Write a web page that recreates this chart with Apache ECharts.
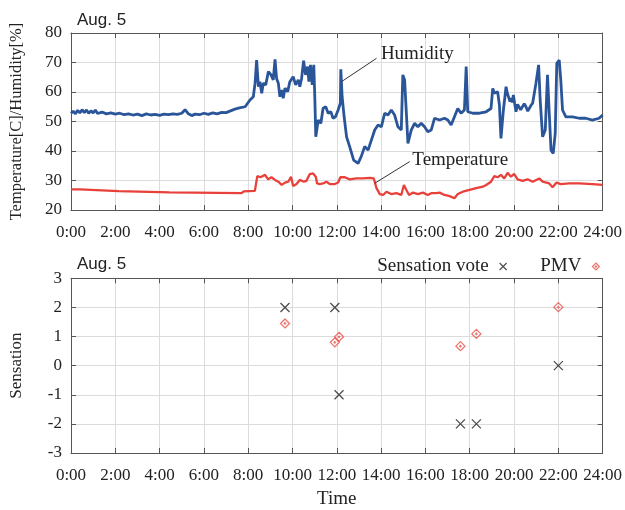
<!DOCTYPE html>
<html>
<head>
<meta charset="utf-8">
<script src="https://cdn.jsdelivr.net/npm/echarts@6/dist/echarts.min.js"></script>
<style>
html,body{margin:0;padding:0;background:#fff;}
#chart{width:625px;height:510px;}
</style>
</head>
<body>
<div id="chart"></div>
<script>
// ---- data (hours of day, values) ----
const timeTickHours = [0,2,4,6,8,10,12,14,16,18,20,22,24];

const humidityHours = [0.00,0.10,0.20,0.30,0.40,0.50,0.60,0.70,0.80,0.90,1.00,1.10,1.20,1.40,1.60,1.80,2.00,2.20,2.40,2.60,2.80,3.00,3.20,3.40,3.60,3.80,4.00,4.20,4.40,4.60,4.80,5.00,5.15,5.30,5.45,5.60,5.80,6.00,6.20,6.40,6.60,6.80,7.00,7.20,7.40,7.60,7.86,8.08,8.23,8.31,8.38,8.46,8.53,8.61,8.68,8.79,8.91,9.03,9.13,9.21,9.28,9.36,9.43,9.51,9.58,9.66,9.78,9.88,9.96,10.03,10.14,10.26,10.33,10.41,10.50,10.59,10.68,10.74,10.81,10.89,10.96,11.01,11.05,11.16,11.28,11.38,11.50,11.61,11.73,11.83,11.94,12.06,12.16,12.18,12.24,12.33,12.44,12.58,12.76,12.96,13.10,13.26,13.41,13.56,13.71,13.86,14.01,14.16,14.31,14.46,14.61,14.76,14.91,14.98,15.06,15.14,15.21,15.36,15.51,15.66,15.81,15.96,16.11,16.26,16.41,16.64,16.86,17.01,17.16,17.31,17.46,17.61,17.76,17.84,17.91,18.14,18.44,18.74,18.96,19.04,19.11,19.26,19.34,19.41,19.52,19.64,19.70,19.76,19.82,19.86,19.92,19.97,20.03,20.09,20.16,20.24,20.30,20.39,20.46,20.54,20.62,20.69,20.77,20.84,20.99,21.11,21.18,21.29,21.41,21.51,21.59,21.67,21.77,21.86,21.93,22.04,22.11,22.19,22.34,22.64,22.94,23.24,23.54,23.84,24.00];
const humidityValues = [52.8,53.5,52.6,53.8,52.9,54.0,53.0,53.9,52.8,53.6,52.9,53.9,52.7,53.2,52.6,52.9,52.5,52.8,52.3,52.6,52.2,52.5,52.0,52.6,52.2,52.4,52.1,52.5,52.3,52.6,52.4,52.8,54.0,52.6,52.0,52.5,52.3,52.8,52.4,52.9,52.6,53.1,53.0,53.6,54.2,54.6,55.0,57.3,58.4,63.0,70.8,61.8,63.5,59.6,63.0,62.4,66.9,65.8,64.1,71.1,64.6,63.0,58.4,60.7,57.9,61.3,60.1,63.5,63.0,65.2,62.4,64.1,61.8,64.6,70.6,65.8,68.6,63.5,69.2,62.4,69.2,57.3,44.8,50.5,49.4,54.5,55.0,52.8,53.3,51.1,51.6,53.9,56.2,67.7,58.4,51.6,44.8,41.5,36.9,35.8,38.1,41.5,40.3,43.7,47.1,48.8,48.2,52.8,52.2,53.9,52.2,48.2,47.1,65.8,64.1,52.8,42.6,47.1,49.4,48.2,49.4,48.2,46.5,47.1,51.1,50.5,51.1,50.5,48.8,51.6,54.4,52.8,53.9,68.6,53.3,52.8,52.8,53.3,54.4,61.2,59.6,60.1,55.6,44.3,53.9,61.8,59.5,60.1,56.8,57.9,56.5,59.0,56.0,53.3,55.8,55.6,54.0,53.9,56.0,55.0,53.5,53.9,55.5,56.2,63.0,69.2,57.3,44.8,47.1,65.8,52.8,40.3,39.2,46.0,69.7,70.8,64.1,53.9,51.6,51.6,51.1,51.1,50.5,51.1,52.2];

const temperatureHours = [0.00,0.40,0.45,2.15,2.20,4.45,4.50,7.70,7.80,8.30,8.41,8.55,8.76,8.90,9.05,9.21,9.36,9.51,9.66,9.81,9.93,10.03,10.18,10.33,10.51,10.63,10.78,10.93,11.05,11.11,11.23,11.38,11.53,11.68,11.91,12.06,12.16,12.36,12.58,12.88,13.18,13.48,13.67,13.79,13.94,14.09,14.24,14.46,14.69,14.91,15.03,15.14,15.26,15.44,15.66,15.89,16.11,16.26,16.49,16.64,16.86,17.09,17.31,17.46,17.69,17.99,18.29,18.59,18.74,18.96,19.11,19.26,19.41,19.56,19.71,19.86,20.01,20.16,20.39,20.61,20.84,21.14,21.29,21.59,21.74,21.92,22.11,22.49,22.94,23.54,24.00];
const temperatureValues = [27.0,27.0,26.4,26.4,26.0,26.0,25.7,25.7,26.3,26.5,31.5,31.1,31.9,30.4,31.1,30.2,29.6,28.5,29.3,29.6,31.3,28.1,28.8,30.2,29.6,29.9,32.2,32.4,31.3,29.0,28.8,29.0,29.6,28.8,28.8,29.3,31.1,31.1,30.4,30.7,30.7,30.9,30.7,27.4,25.4,25.1,26.2,25.4,25.7,25.1,28.5,26.8,25.1,25.9,25.4,25.9,25.1,25.7,25.7,25.9,25.1,24.7,24.0,25.4,26.2,26.8,27.4,27.9,28.5,29.6,31.5,31.1,31.9,30.7,32.6,31.3,32.2,30.4,29.9,30.4,29.6,30.7,29.6,29.0,27.7,29.3,28.8,29.0,29.0,28.8,28.5];

const voteHours = [9.66,11.91,12.10,17.58,18.30,22.00];
const voteValues = [2,2,-1,-2,-2,0];
const pmvHours = [9.66,11.91,12.10,17.58,18.30,22.00];
const pmvValues = [1.45,0.80,0.99,0.67,1.09,2.01];

const zip = (a, b) => a.map((x, i) => [x, b[i]]);

const SERIF = "'Liberation Serif','DejaVu Serif',serif";
const SANS = "'Liberation Sans','DejaVu Sans',sans-serif";
const FRAME = '#555';
const GRIDC = '#dcdcdc';
const HUM = '#2a5599';
const TEMP = '#e8403a';
const PMVC = '#e8504a';
const VOTEC = '#222';

function xAxisDef(gridIndex, pos, showLabels, name) {
  return {
    type: 'value', gridIndex, position: pos, min: 0, max: 24, interval: 2,
    axisLine: {show: true, onZero: false, lineStyle: {color: FRAME, width: 1}},
    axisTick: {show: true, inside: true, length: 5, lineStyle: {color: FRAME}},
    splitLine: {show: showLabels, lineStyle: {color: GRIDC, width: 1}},
    axisLabel: {show: showLabels, margin: 14, fontFamily: SERIF, fontSize: 17, color: '#222',
      formatter: v => v + ':00'},
    name: name || '', nameLocation: 'middle', nameGap: 37,
    nameTextStyle: {fontFamily: SERIF, fontSize: 19, color: '#222'}
  };
}
function yAxisDef(gridIndex, pos, min, max, interval, showLabels, name, nameSize, nameGap) {
  return {
    type: 'value', gridIndex, position: pos, min, max, interval,
    axisLine: {show: true, onZero: false, lineStyle: {color: FRAME, width: 1}},
    axisTick: {show: true, inside: true, length: 5, lineStyle: {color: FRAME}},
    splitLine: {show: showLabels, lineStyle: {color: GRIDC, width: 1}},
    axisLabel: {show: showLabels, margin: 9, fontFamily: SERIF, fontSize: 17, color: '#222'},
    name: name || '', nameLocation: 'middle', nameGap: nameGap || 46,
    nameTextStyle: {fontFamily: SERIF, fontSize: nameSize || 16, color: '#222'}
  };
}

const crossPath = 'path://M0,0L10,10M10,0L0,10';
const diamondPath = 'path://M5,0L10,5L5,10L0,5Z M5,4.2L5.8,5L5,5.8L4.2,5Z';

const chart = echarts.init(document.getElementById('chart'), null, {renderer: 'canvas'});

const option = {
  backgroundColor: '#fff',
  animation: false,
  title: [
    {text: 'Aug. 5', left: 77, top: 12, padding: 0,
      textStyle: {fontFamily: SANS, fontSize: 17, fontWeight: 'normal', color: '#222'}},
    {text: 'Aug. 5', left: 77, top: 256, padding: 0,
      textStyle: {fontFamily: SANS, fontSize: 17, fontWeight: 'normal', color: '#222'}}
  ],
  legend: {
    data: [
      {name: 'Sensation vote', icon: crossPath,
        itemStyle: {color: 'rgba(0,0,0,0)', borderColor: VOTEC, borderWidth: 1.2}},
      {name: 'PMV', icon: diamondPath,
        itemStyle: {color: 'rgba(0,0,0,0)', borderColor: PMVC, borderWidth: 1.2}}
    ],
    right: 25, top: 257, align: 'right', orient: 'horizontal',
    itemWidth: 19, itemHeight: 7, itemGap: 33, padding: 0,
    textStyle: {fontFamily: SERIF, fontSize: 19, color: '#222'}
  },
  grid: [
    {left: 71, top: 33, width: 533.5, height: 177, show: false},
    {left: 71, top: 278.3, width: 533.5, height: 176, show: false}
  ],
  xAxis: [
    xAxisDef(0, 'bottom', true),
    xAxisDef(0, 'top', false),
    xAxisDef(1, 'bottom', true, 'Time'),
    xAxisDef(1, 'top', false)
  ],
  yAxis: [
    yAxisDef(0, 'left', 20, 80, 10, true, 'Temperature[C]/Humidity[%]', 16.5, 46),
    yAxisDef(0, 'right', 20, 80, 10, false),
    yAxisDef(1, 'left', -3, 3, 1, true, 'Sensation', 17, 46),
    yAxisDef(1, 'right', -3, 3, 1, false)
  ],
  series: [
    {
      name: 'Humidity', type: 'line', xAxisIndex: 0, yAxisIndex: 0,
      data: zip(humidityHours, humidityValues), showSymbol: false, symbol: 'none',
      lineStyle: {color: HUM, width: 2.8}, itemStyle: {color: HUM}, z: 3
    },
    {
      name: 'Temperature', type: 'line', xAxisIndex: 0, yAxisIndex: 0,
      data: zip(temperatureHours, temperatureValues), showSymbol: false, symbol: 'none',
      lineStyle: {color: TEMP, width: 2.3}, itemStyle: {color: TEMP}, z: 3
    },
    {
      name: 'Sensation vote', type: 'scatter', xAxisIndex: 2, yAxisIndex: 2,
      data: zip(voteHours, voteValues), symbol: crossPath, symbolSize: 9,
      itemStyle: {color: 'rgba(0,0,0,0)', borderColor: VOTEC, borderWidth: 1.3}, z: 4
    },
    {
      name: 'PMV', type: 'scatter', xAxisIndex: 2, yAxisIndex: 2,
      data: zip(pmvHours, pmvValues), symbol: diamondPath, symbolSize: 9,
      itemStyle: {color: 'rgba(0,0,0,0)', borderColor: PMVC, borderWidth: 1.3}, z: 4
    }
  ]
};
chart.setOption(option);

// annotation leader lines + labels, positioned in data coordinates
const annotations = [
  {text: 'Humidity', from: [12.21, 63.5], to: [13.79, 71.4], label: [13.99, 72.9]},
  {text: 'Temperature', from: [13.71, 29.05], to: [15.29, 36.4], label: [15.41, 37.0]}
];
const graphics = [];
annotations.forEach(a => {
  const p1 = chart.convertToPixel({xAxisIndex: 0, yAxisIndex: 0}, a.from);
  const p2 = chart.convertToPixel({xAxisIndex: 0, yAxisIndex: 0}, a.to);
  const pl = chart.convertToPixel({xAxisIndex: 0, yAxisIndex: 0}, a.label);
  graphics.push({type: 'line', shape: {x1: p1[0], y1: p1[1], x2: p2[0], y2: p2[1]},
    style: {stroke: '#333', lineWidth: 1}, z: 10});
  graphics.push({type: 'text', x: pl[0], y: pl[1],
    style: {text: a.text, fontFamily: SERIF, fontSize: 19, fill: '#222',
      textAlign: 'left', textVerticalAlign: 'middle'}, z: 10});
});
chart.setOption({graphic: graphics});
</script>
</body>
</html>
